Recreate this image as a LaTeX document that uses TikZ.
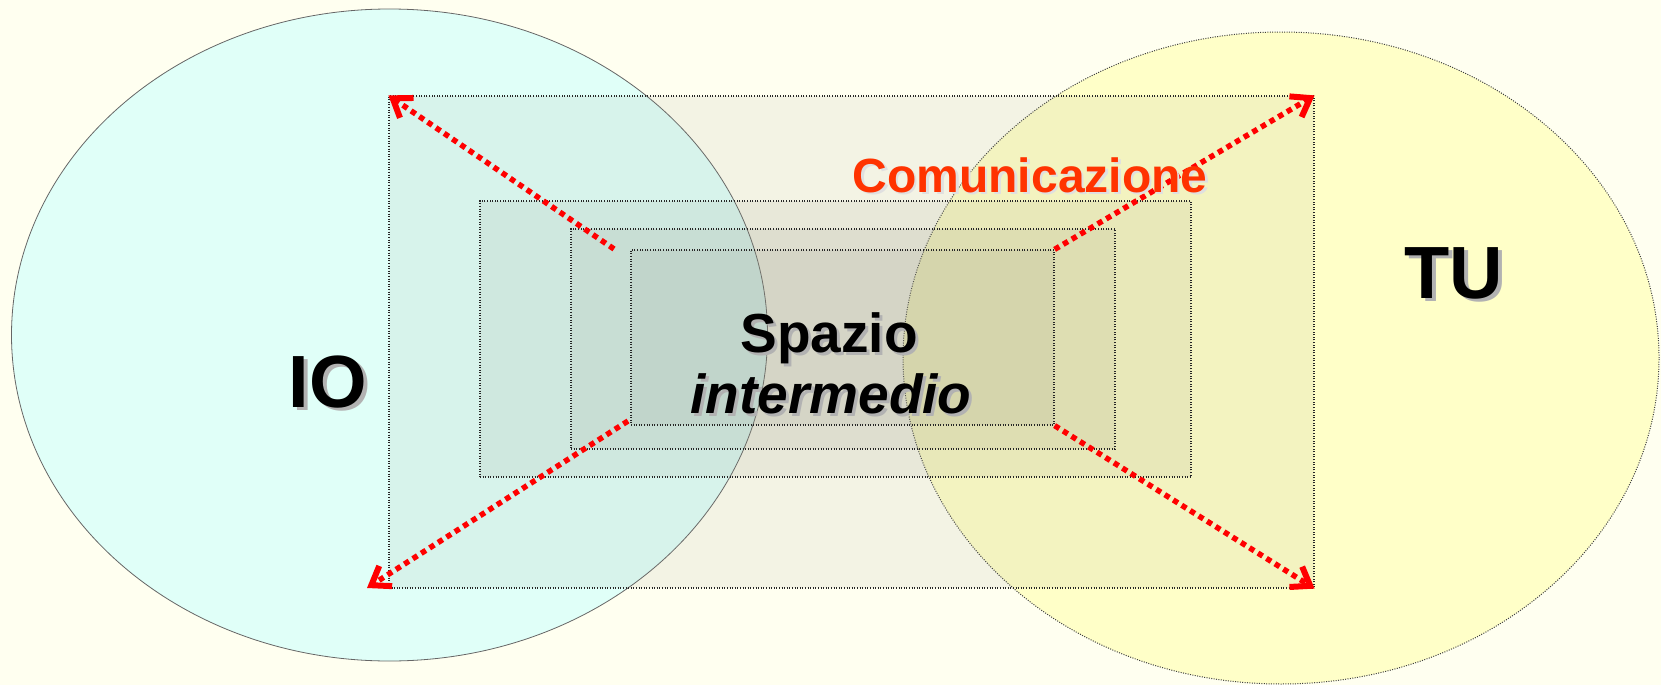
\documentclass[tikz,border=0pt]{standalone}
\usepackage{fontspec}
\setmainfont{Liberation Sans}
\usetikzlibrary{shapes.geometric,arrows.meta}
\definecolor{bgcol}{HTML}{FFFFF0}
\definecolor{iocol}{HTML}{E0FFF8}
\definecolor{tucol}{HTML}{FFFFC8}
\definecolor{boxcol}{HTML}{8C8C7C}
\definecolor{comcol}{HTML}{FF3300}
\newcommand{\shtext}[4]{\rlap{\kern#3\raisebox{-#3}{\color{#2}#1}}#1}
\tikzset{
  blob/.style={ellipse, inner sep=0pt, minimum width=756pt, minimum height=652pt},
  frame/.style={rectangle, inner sep=0pt, fill=boxcol, fill opacity=0.1, draw=black!85, draw opacity=1, line width=1.2pt, dash pattern=on 1pt off 1.6pt},
  redarrow/.style={red, line width=5.5pt, dash pattern=on 5.5pt off 4.5pt, -{Straight Barb[length=17pt,width=24pt,line width=6pt]}},
  bigtext/.style={font=\fontsize{74}{80}\selectfont\bfseries, inner sep=0pt, anchor=base},
  midtext/.style={font=\fontsize{55}{62}\selectfont\bfseries, inner sep=0pt, anchor=base}
}
\begin{document}
\begin{tikzpicture}[x=1pt,y=-1pt]
\useasboundingbox (0,0) rectangle (1661,685);
\fill[bgcol] (0,0) rectangle (1661,685);
% ellipses
\node[blob, fill=iocol, draw=black!60, line width=0.8pt] (io) at (389.5,335) {};
\node[blob, fill=tucol, draw=black!75, line width=1pt, dash pattern=on 1pt off 1.4pt] (tu) at (1281,358) {};
% nested rectangles
\node[frame, minimum width=925pt, minimum height=492pt] (r1) at (851.5,342) {};
\node[frame, minimum width=711pt, minimum height=276pt] (r2) at (835.5,339) {};
\node[frame, minimum width=544pt, minimum height=220pt] (r3) at (843,339) {};
\node[frame, minimum width=423pt, minimum height=175pt] (r4) at (842.5,337.5) {};
% arrow anchors
\coordinate (s1) at (614,249);
\coordinate (t1) at (r1.north west);
\coordinate (s2) at (r4.north east);
\coordinate (t2) at (r1.north east);
\coordinate (s3) at (628,421);
\coordinate (t3) at (367,588);
\coordinate (s4) at (r4.south east);
\coordinate (t4) at (r1.south east);
\draw[redarrow] (s1) -- (t1);
\draw[redarrow] (s2) -- (t2);
\draw[redarrow] (s3) -- (t3);
\draw[redarrow] (s4) -- (t4);
% texts
\node[bigtext] (iol) at (328,407) {\shtext{IO}{black!30}{3.5pt}{}};
\node[bigtext] (tul) at (1454,298) {\shtext{TU}{black!30}{3.5pt}{}};
\node[midtext] (sp) at (829,352) {\shtext{Spazio}{black!30}{3pt}{}};
\node[midtext, font=\fontsize{55}{62}\selectfont\bfseries\itshape] (in) at (831,413) {\shtext{intermedio}{black!30}{3pt}{}};
\node[font=\fontsize{48}{54}\selectfont\bfseries, inner sep=0pt, anchor=base, text=comcol] (com) at (1030,192) {\shtext{Comunicazione}{black!12}{2.5pt}{}};
\end{tikzpicture}
\end{document}
